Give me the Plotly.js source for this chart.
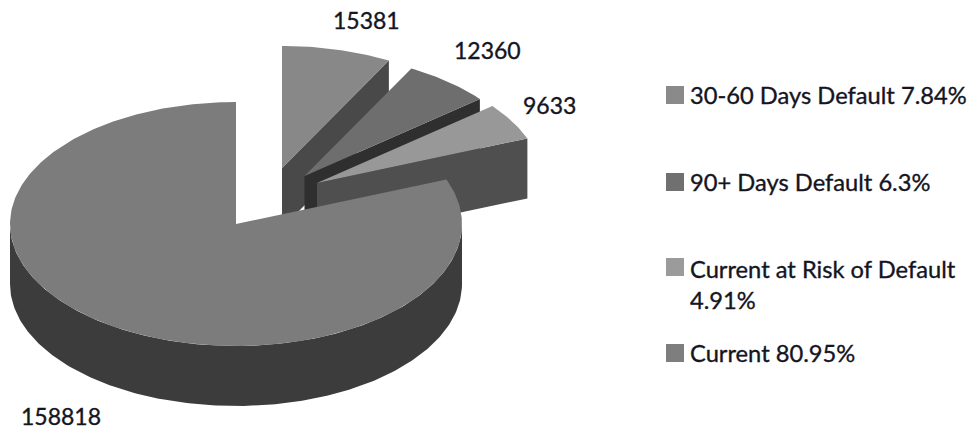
<!DOCTYPE html>
<html>
<head>
<meta charset="utf-8">
<script src="https://cdn.plot.ly/plotly-3.0.1.min.js"></script>
<style>
html,body{margin:0;padding:0;background:#fff}
#chart{width:969px;height:430px}
.annotation-text{stroke:#15151f;stroke-width:0.35px}
</style>
</head>
<body>
<div id="chart"></div>
<script>
// Loan status counts
const categories = ['30-60 Days Default', '90+ Days Default', 'Current at Risk of Default', 'Current'];
const counts = [15381, 12360, 9633, 158818];
const shares = ['7.84%', '6.3%', '4.91%', '80.95%'];

// Shading of each wedge: top face, cut face, legend swatch
const topColors = ['#888888', '#6e6e6e', '#989898', '#7c7c7c'];
const cutColors = ['#494949', '#2f2f2f', '#4f4f4f', '#3c3c3c'];
const swatchColors = ['#8a8a8a', '#707070', '#9b9b9b', '#7e7e7e'];

// Projection of the tilted pie, in pixel-like plot units
const RX = 226, RY = 122, DEPTH = 60;
const apexes = [[282, 168], [304.5, 176], [317, 183], [236, 224]];
const labelAnchors = [[366, 20], [487, 50], [549, 105], [61, 416]];
const swatchY = [95, 182, 267, 353];
const entryY = [95, 182, 284, 353];

const total = counts.reduce((a, b) => a + b, 0);

// Point on a wedge rim; angle in degrees, clockwise from twelve o'clock
function rim(apex, deg, drop) {
  const r = deg * Math.PI / 180;
  return [apex[0] + RX * Math.sin(r), apex[1] - RY * Math.cos(r) + drop];
}
function arc(apex, from, to, drop) {
  const pts = [], n = Math.max(2, Math.ceil(Math.abs(to - from)));
  for (let i = 0; i <= n; i++) pts.push(rim(apex, from + (to - from) * i / n, drop));
  return pts;
}
function polygon(pts, color, name) {
  return {
    type: 'scatter', mode: 'lines', fill: 'toself', fillcolor: color,
    x: pts.map(p => p[0]), y: pts.map(p => p[1]),
    line: {width: 0, color: color}, hoverinfo: 'text', text: name, hoveron: 'fills'
  };
}

const traces = [];
let start = 0;
counts.forEach((count, i) => {
  const end = start + 360 * count / total;
  const apex = apexes[i];
  const name = categories[i] + ': ' + count;
  if (end < 180) {
    // Cut face on the leading edge of a back wedge
    const o = rim(apex, end, 0), b = rim(apex, end, DEPTH);
    traces.push(polygon([apex, o, b, [apex[0], apex[1] + DEPTH]], cutColors[i], name));
  } else {
    // Outer wall of the large wedge, on the viewer's side only
    const wallTop = arc(apex, 90, 270, 0);
    const wallBottom = arc(apex, 270, 90, DEPTH);
    traces.push(polygon(wallTop.concat(wallBottom), cutColors[i], name));
  }
  traces.push(polygon([apex].concat(arc(apex, start, end, 0)), topColors[i], name));
  start = end;
});

// Legend swatches
traces.push({
  type: 'scatter', mode: 'markers', hoverinfo: 'skip',
  x: categories.map(() => 675), y: swatchY,
  marker: {symbol: 'square', size: 18, color: swatchColors, line: {width: 0}}
});

const textColor = '#15151f';
const annotations = [];
counts.forEach((count, i) => annotations.push({
  x: labelAnchors[i][0], y: labelAnchors[i][1], xref: 'x', yref: 'y',
  text: String(count), showarrow: false, xanchor: 'center', yanchor: 'middle',
  font: {family: 'Lato, sans-serif', size: 23, color: textColor}
}));
const entryText = categories.map((c, i) =>
  c.length > 20 ? c + '<br>' + shares[i] : c + ' ' + shares[i]);
entryText.forEach((t, i) => annotations.push({
  x: 688, y: entryY[i], xref: 'x', yref: 'y', text: t, showarrow: false,
  xanchor: 'left', yanchor: 'middle', align: 'left',
  font: {family: 'Lato, sans-serif', size: 23.7, color: textColor}
}));

const hiddenAxis = {visible: false, fixedrange: true, showgrid: false, zeroline: false};
Plotly.newPlot('chart', traces, {
  width: 969, height: 430, margin: {l: 0, r: 0, t: 0, b: 0},
  paper_bgcolor: '#ffffff', plot_bgcolor: '#ffffff', showlegend: false,
  xaxis: Object.assign({range: [0, 969]}, hiddenAxis),
  yaxis: Object.assign({range: [430, 0]}, hiddenAxis),
  annotations: annotations
}, {displayModeBar: false, responsive: false});
</script>
</body>
</html>
